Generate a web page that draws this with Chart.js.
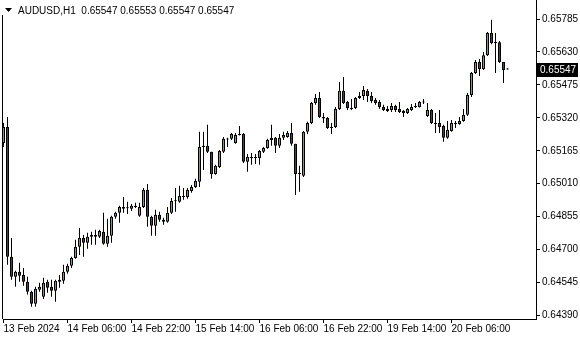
<!DOCTYPE html>
<html>
<head>
<meta charset="utf-8">
<script src="https://cdn.jsdelivr.net/npm/chart.js@4.4.1/dist/chart.umd.min.js"></script>
<style>
  html, body { margin: 0; padding: 0; background: #fff; }
</style>
</head>
<body>
<canvas id="chart" width="580" height="340"></canvas>
<script>
//Symbol
const symbol = 'AUDUSD,H1';

//Candles (H1)
const opens = [0.65202, 0.65277, 0.64666, 0.64572, 0.64596, 0.64581, 0.64549, 0.64502, 0.64445, 0.64511,
    0.64478, 0.64549, 0.64525, 0.64507, 0.64549, 0.64553, 0.64596, 0.64624, 0.64661, 0.64713,
    0.64755, 0.64732, 0.64760, 0.64769, 0.64760, 0.64784, 0.64727, 0.64765, 0.64854, 0.64873,
    0.64892, 0.64896, 0.64892, 0.64901, 0.64859, 0.64901, 0.64981, 0.64854, 0.64812, 0.64864,
    0.64840, 0.64831, 0.64873, 0.64929, 0.64925, 0.64952, 0.64948, 0.64976, 0.64995, 0.65019,
    0.65183, 0.65189, 0.65160, 0.65056, 0.65089, 0.65160, 0.65221, 0.65221, 0.65202, 0.65244,
    0.65244, 0.65113, 0.65136, 0.65131, 0.65131, 0.65160, 0.65178, 0.65216, 0.65226, 0.65189,
    0.65226, 0.65230, 0.65249, 0.65198, 0.65061, 0.65047, 0.65254, 0.65296, 0.65390, 0.65413,
    0.65324, 0.65319, 0.65277, 0.65277, 0.65362, 0.65447, 0.65395, 0.65366, 0.65366, 0.65413,
    0.65423, 0.65447, 0.65423, 0.65404, 0.65395, 0.65371, 0.65362, 0.65357, 0.65376, 0.65362,
    0.65352, 0.65343, 0.65357, 0.65371, 0.65371, 0.65395, 0.65329, 0.65357, 0.65296, 0.65296,
    0.65282, 0.65226, 0.65258, 0.65296, 0.65291, 0.65305, 0.65334, 0.65428, 0.65531, 0.65583,
    0.65550, 0.65615, 0.65719, 0.65676, 0.65676, 0.65583, 0.65547];
const highs = [0.65296, 0.65324, 0.64755, 0.64600, 0.64638, 0.64614, 0.64572, 0.64507, 0.64525, 0.64544,
    0.64568, 0.64558, 0.64558, 0.64558, 0.64581, 0.64629, 0.64633, 0.64666, 0.64746, 0.64802,
    0.64769, 0.64779, 0.64784, 0.64793, 0.64793, 0.64873, 0.64845, 0.64859, 0.64878, 0.64906,
    0.64948, 0.64925, 0.64915, 0.64920, 0.64920, 0.64990, 0.65009, 0.64859, 0.64887, 0.64878,
    0.64850, 0.64901, 0.64943, 0.64990, 0.65000, 0.64990, 0.64990, 0.65004, 0.65033, 0.65254,
    0.65254, 0.65287, 0.65160, 0.65099, 0.65169, 0.65230, 0.65226, 0.65249, 0.65249, 0.65282,
    0.65249, 0.65150, 0.65155, 0.65150, 0.65169, 0.65183, 0.65221, 0.65287, 0.65230, 0.65244,
    0.65254, 0.65258, 0.65296, 0.65198, 0.65094, 0.65258, 0.65301, 0.65395, 0.65432, 0.65442,
    0.65343, 0.65324, 0.65296, 0.65371, 0.65489, 0.65512, 0.65399, 0.65409, 0.65418, 0.65442,
    0.65470, 0.65456, 0.65442, 0.65413, 0.65404, 0.65381, 0.65376, 0.65390, 0.65381, 0.65395,
    0.65357, 0.65366, 0.65385, 0.65390, 0.65399, 0.65409, 0.65390, 0.65362, 0.65343, 0.65357,
    0.65287, 0.65305, 0.65310, 0.65305, 0.65324, 0.65362, 0.65437, 0.65536, 0.65592, 0.65597,
    0.65630, 0.65724, 0.65781, 0.65719, 0.65681, 0.65583, 0.65553];
const lows = [0.65183, 0.64629, 0.64558, 0.64525, 0.64549, 0.64530, 0.64489, 0.64431, 0.64431, 0.64502,
    0.64468, 0.64497, 0.64478, 0.64455, 0.64520, 0.64539, 0.64586, 0.64614, 0.64657, 0.64675,
    0.64666, 0.64704, 0.64723, 0.64723, 0.64755, 0.64723, 0.64713, 0.64732, 0.64845, 0.64826,
    0.64873, 0.64868, 0.64882, 0.64896, 0.64854, 0.64896, 0.64807, 0.64765, 0.64765, 0.64831,
    0.64817, 0.64826, 0.64868, 0.64878, 0.64920, 0.64934, 0.64939, 0.64967, 0.64990, 0.64995,
    0.65075, 0.65155, 0.65033, 0.65052, 0.65084, 0.65155, 0.65183, 0.65216, 0.65198, 0.65237,
    0.65108, 0.65066, 0.65099, 0.65103, 0.65099, 0.65155, 0.65174, 0.65189, 0.65155, 0.65178,
    0.65216, 0.65226, 0.65189, 0.64957, 0.64972, 0.65042, 0.65244, 0.65291, 0.65381, 0.65319,
    0.65296, 0.65268, 0.65244, 0.65272, 0.65357, 0.65385, 0.65357, 0.65357, 0.65362, 0.65409,
    0.65404, 0.65395, 0.65390, 0.65381, 0.65362, 0.65352, 0.65348, 0.65348, 0.65348, 0.65343,
    0.65324, 0.65338, 0.65352, 0.65366, 0.65369, 0.65385, 0.65324, 0.65291, 0.65249, 0.65249,
    0.65207, 0.65221, 0.65254, 0.65272, 0.65287, 0.65301, 0.65329, 0.65418, 0.65526, 0.65517,
    0.65545, 0.65611, 0.65666, 0.65531, 0.65578, 0.65484, 0.65547];
const closes = [0.65277, 0.64666, 0.64572, 0.64596, 0.64577, 0.64549, 0.64502, 0.64445, 0.64516, 0.64525,
    0.64544, 0.64520, 0.64507, 0.64553, 0.64558, 0.64596, 0.64624, 0.64661, 0.64713, 0.64755,
    0.64732, 0.64760, 0.64769, 0.64760, 0.64788, 0.64727, 0.64765, 0.64854, 0.64873, 0.64901,
    0.64901, 0.64894, 0.64906, 0.64906, 0.64901, 0.64981, 0.64854, 0.64812, 0.64864, 0.64840,
    0.64831, 0.64873, 0.64929, 0.64927, 0.64952, 0.64948, 0.64981, 0.64995, 0.65023, 0.65183,
    0.65189, 0.65160, 0.65056, 0.65094, 0.65164, 0.65221, 0.65218, 0.65244, 0.65239, 0.65239,
    0.65113, 0.65136, 0.65131, 0.65134, 0.65164, 0.65178, 0.65216, 0.65226, 0.65189, 0.65226,
    0.65239, 0.65249, 0.65198, 0.65056, 0.65056, 0.65254, 0.65296, 0.65390, 0.65413, 0.65324,
    0.65317, 0.65272, 0.65272, 0.65362, 0.65447, 0.65390, 0.65366, 0.65362, 0.65413, 0.65423,
    0.65451, 0.65423, 0.65399, 0.65390, 0.65371, 0.65357, 0.65352, 0.65376, 0.65357, 0.65348,
    0.65343, 0.65362, 0.65371, 0.65376, 0.65395, 0.65392, 0.65357, 0.65296, 0.65291, 0.65277,
    0.65226, 0.65264, 0.65296, 0.65291, 0.65305, 0.65334, 0.65428, 0.65531, 0.65583, 0.65550,
    0.65615, 0.65719, 0.65672, 0.65672, 0.65583, 0.65545, 0.65547];

//Time labels, one every 16 bars
const timeLabels = ['13 Feb 2024', '14 Feb 06:00', '14 Feb 22:00', '15 Feb 14:00',
    '16 Feb 06:00', '16 Feb 22:00', '19 Feb 14:00', '20 Feb 06:00'];
const labelEvery = 16;

//Price scale
const priceTicks = [0.64390, 0.64545, 0.64700, 0.64855, 0.65010, 0.65165, 0.65320, 0.65475, 0.65630, 0.65785];

const bullColor = '#32cd32';
const bearColor = '#e00000';
const font = { family: "'Liberation Sans', Arial, sans-serif", size: 10 };

const idx = opens.map((_, i) => i);
const wickData = idx.map(i => ({ x: i, y: [lows[i], highs[i]] }));
const bodyData = idx.map(i => ({ x: i, y: [opens[i], closes[i]] }));
const bodyColors = idx.map(i => closes[i] >= opens[i] ? bullColor : bearColor);
const last = opens.length - 1;

//Left frame, header line, current price box
const extras = {
    id: 'extras',
    afterDraw(chart) {
        const { ctx, chartArea: a, scales } = chart;
        ctx.save();
        ctx.strokeStyle = '#000';
        ctx.lineWidth = 1;
        ctx.beginPath();
        ctx.moveTo(a.left - 0.5, 15);
        ctx.lineTo(a.left - 0.5, a.bottom);
        ctx.stroke();

        ctx.fillStyle = '#000';
        ctx.beginPath();
        ctx.moveTo(5, 8);
        ctx.lineTo(12, 8);
        ctx.lineTo(8.5, 12);
        ctx.closePath();
        ctx.fill();

        ctx.font = `${font.size}px ${font.family}`;
        ctx.textBaseline = 'middle';
        ctx.textAlign = 'left';
        const ohlc = [opens[last], highs[last], lows[last], closes[last]].map(v => v.toFixed(5)).join(' ');
        ctx.fillText(`${symbol}  ${ohlc}`, 18, 11);

        const py = Math.round(scales.y.getPixelForValue(closes[last]));
        ctx.fillRect(a.right + 1, py - 7, 41, 14);
        ctx.fillStyle = '#fff';
        ctx.fillText(closes[last].toFixed(5), a.right + 4, py);
        ctx.restore();
    }
};

const myChart = new Chart(document.querySelector('#chart'), {
    type: 'bar',
    data: {
        datasets: [{
            data: wickData,
            backgroundColor: '#000',
            borderWidth: 0,
            barThickness: 1,
            inflateAmount: 0,
            order: 2
        }, {
            data: bodyData,
            backgroundColor: bodyColors,
            borderColor: '#000',
            borderWidth: 1,
            borderSkipped: false,
            barThickness: 3,
            minBarLength: 1,
            inflateAmount: 0,
            order: 1
        }]
    },
    options: {
        responsive: false,
        animation: false,
        devicePixelRatio: 1,
        layout: { padding: { left: 3, top: 0, right: 0, bottom: 0 } },
        plugins: {
            legend: { display: false },
            tooltip: { enabled: false }
        },
        scales: {
            x: {
                type: 'linear',
                stacked: true,
                offset: false,
                min: -0.125,
                max: 133.125,
                afterFit: s => {
                    s.height = 21;
                    s.paddingLeft = 0;
                    s.paddingRight = 0;
                },
                afterBuildTicks: s => {
                    s.ticks = timeLabels.map((t, k) => ({ value: k * labelEvery }));
                },
                ticks: {
                    autoSkip: false,
                    maxRotation: 0,
                    align: 'start',
                    padding: 0,
                    color: '#000',
                    font: font,
                    callback: (v, i) => timeLabels[i]
                },
                grid: { drawOnChartArea: false, offset: false, tickLength: 4, color: '#000' },
                border: { color: '#000' }
            },
            y: {
                position: 'right',
                stacked: false,
                min: 0.643735,
                max: 0.658744,
                afterFit: s => {
                    s.width = 44;
                    s.paddingTop = 0;
                    s.paddingBottom = 0;
                },
                afterBuildTicks: s => {
                    s.ticks = priceTicks.map(v => ({ value: v }));
                },
                ticks: {
                    padding: 2,
                    color: '#000',
                    font: font,
                    callback: v => v.toFixed(5)
                },
                grid: { drawOnChartArea: false, tickLength: 4, color: '#000' },
                border: { color: '#000' }
            }
        }
    },
    plugins: [extras]
});
</script>
</body>
</html>
